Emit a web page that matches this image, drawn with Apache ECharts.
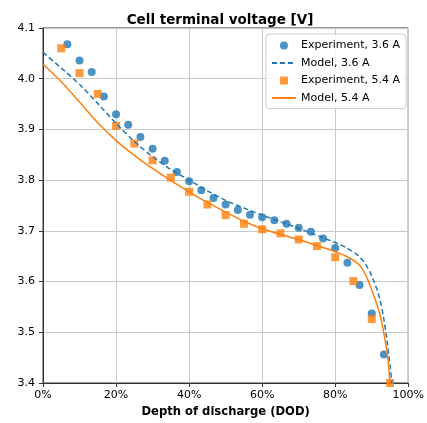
<!DOCTYPE html>
<html>
<head>
<meta charset="utf-8">
<script src="https://cdn.jsdelivr.net/npm/echarts@6/dist/echarts.min.js"></script>
<style>html,body{margin:0;padding:0;background:#fff}#c{width:427px;height:423px}</style>
</head>
<body>
<div id="c"></div>
<script>
// Experiment, 3.6 A
const exp36Dod = [3.33, 6.67, 10, 13.33, 16.67, 20, 23.33, 26.67, 30, 33.33, 36.67, 40, 43.33, 46.67, 50, 53.33, 56.67, 60, 63.33, 66.67, 70, 73.33, 76.67, 80, 83.33, 86.67, 90, 93.33];
const exp36V = [4.11, 4.068, 4.036, 4.013, 3.965, 3.930, 3.909, 3.885, 3.862, 3.838, 3.816, 3.798, 3.780, 3.765, 3.752, 3.741, 3.732, 3.727, 3.721, 3.714, 3.706, 3.698, 3.685, 3.666, 3.637, 3.593, 3.537, 3.456];
// Experiment, 5.4 A
const exp54Dod = [5, 10, 15, 20, 25, 30, 35, 40, 45, 50, 55, 60, 65, 70, 75, 80, 85, 90, 95];
const exp54V = [4.06, 4.011, 3.970, 3.907, 3.872, 3.839, 3.805, 3.777, 3.752, 3.731, 3.714, 3.703, 3.695, 3.683, 3.670, 3.648, 3.601, 3.526, 3.40];
// Model, 3.6 A
const mod36Dod = [0, 5, 10, 15, 20, 25, 30, 35, 40, 45, 50, 55, 60, 65, 70, 75, 80, 83, 86, 88, 89.5, 90.5, 91.5, 92.3, 93.1, 94, 94.9, 95.5];
const mod36V = [4.052, 4.021, 3.989, 3.951, 3.912, 3.876, 3.846, 3.821, 3.800, 3.779, 3.760, 3.745, 3.731, 3.718, 3.705, 3.691, 3.677, 3.667, 3.653, 3.638, 3.619, 3.602, 3.583, 3.563, 3.535, 3.494, 3.442, 3.40];
// Model, 5.4 A
const mod54Dod = [0, 5, 10, 15, 20, 25, 30, 35, 40, 45, 50, 55, 60, 65, 70, 75, 80, 83, 86, 87.3, 88.6, 90.4, 92.2, 93.6, 94.5, 95];
const mod54V = [4.029, 3.994, 3.954, 3.913, 3.878, 3.849, 3.823, 3.799, 3.777, 3.756, 3.737, 3.719, 3.704, 3.693, 3.683, 3.671, 3.659, 3.650, 3.637, 3.626, 3.609, 3.576, 3.536, 3.487, 3.442, 3.40];

const xTicks = [0, 20, 40, 60, 80, 100];
const yTicks = [3.4, 3.5, 3.6, 3.7, 3.8, 3.9, 4.0, 4.1];

const pair = (xs, ys) => xs.map((x, i) => [x, ys[i]]);
const BLUE = '#1f77b4', ORANGE = '#ff7f0e';
const FONT = 'DejaVu Sans';

const chart = echarts.init(document.getElementById('c'), null, {renderer: 'canvas'});
chart.setOption({
  animation: false,
  textStyle: {fontFamily: FONT},
  graphic: [{
    type: 'text', x: 220, y: 20,
    style: {text: 'Cell terminal voltage [V]', font: 'bold 13.5px "DejaVu Sans"', fill: '#000', textAlign: 'center', textVerticalAlign: 'middle'}
  }],
  grid: {left: 43, right: 15, top: 28, bottom: 39, show: true, borderColor: '#333', borderWidth: 1},
  legend: {
    orient: 'vertical', right: 21, top: 34,
    backgroundColor: 'rgba(255,255,255,0.85)', borderColor: '#d0d0d0', borderWidth: 1, borderRadius: 3,
    padding: [6, 6, 5, 5], itemGap: 6.5, itemWidth: 24, itemHeight: 8,
    textStyle: {fontFamily: FONT, fontSize: 11, color: '#000'},
    data: [
      {name: 'Experiment, 3.6 A', icon: 'circle'},
      {name: 'Model, 3.6 A', itemStyle: {opacity: 0}},
      {name: 'Experiment, 5.4 A', icon: 'path://M0,0H10V10H0Z'},
      {name: 'Model, 5.4 A', itemStyle: {opacity: 0}}
    ]
  },
  xAxis: {
    type: 'value', min: xTicks[0], max: xTicks[xTicks.length - 1], interval: 20,
    name: 'Depth of discharge (DOD)', nameLocation: 'middle', nameGap: 23,
    nameTextStyle: {fontFamily: FONT, fontSize: 11.6, fontWeight: 'bold', color: '#000'},
    axisLine: {lineStyle: {color: '#333'}},
    axisTick: {show: true, inside: false, length: 4, lineStyle: {color: '#333'}},
    axisLabel: {fontFamily: FONT, fontSize: 11, color: '#000', margin: 7, formatter: v => v + '%'},
    splitLine: {show: true, lineStyle: {color: '#c8c8c8', width: 1}}
  },
  yAxis: {
    type: 'value', min: yTicks[0], max: yTicks[yTicks.length - 1], interval: 0.1,
    axisLine: {show: true, lineStyle: {color: '#333'}},
    axisTick: {show: true, inside: false, length: 4, lineStyle: {color: '#333'}},
    axisLabel: {fontFamily: FONT, fontSize: 11, color: '#000', margin: 8, formatter: v => v.toFixed(1)},
    splitLine: {show: true, lineStyle: {color: '#c8c8c8', width: 1}}
  },
  series: [
    {name: 'Experiment, 3.6 A', type: 'scatter', data: pair(exp36Dod, exp36V), symbol: 'circle', symbolSize: 8, itemStyle: {color: BLUE}, clip: true, z: 3},
    {name: 'Model, 3.6 A', type: 'line', data: pair(mod36Dod, mod36V), symbol: 'none', smooth: 0.15, lineStyle: {color: BLUE, width: 1.5, type: [5, 3]}, itemStyle: {color: BLUE}, clip: true, z: 4},
    {name: 'Experiment, 5.4 A', type: 'scatter', data: pair(exp54Dod, exp54V), symbol: 'rect', symbolSize: 8, itemStyle: {color: ORANGE}, clip: true, z: 3},
    {name: 'Model, 5.4 A', type: 'line', data: pair(mod54Dod, mod54V), symbol: 'none', smooth: 0.15, lineStyle: {color: ORANGE, width: 1.5}, itemStyle: {color: ORANGE}, clip: true, z: 4}
  ]
});
</script>
</body>
</html>
